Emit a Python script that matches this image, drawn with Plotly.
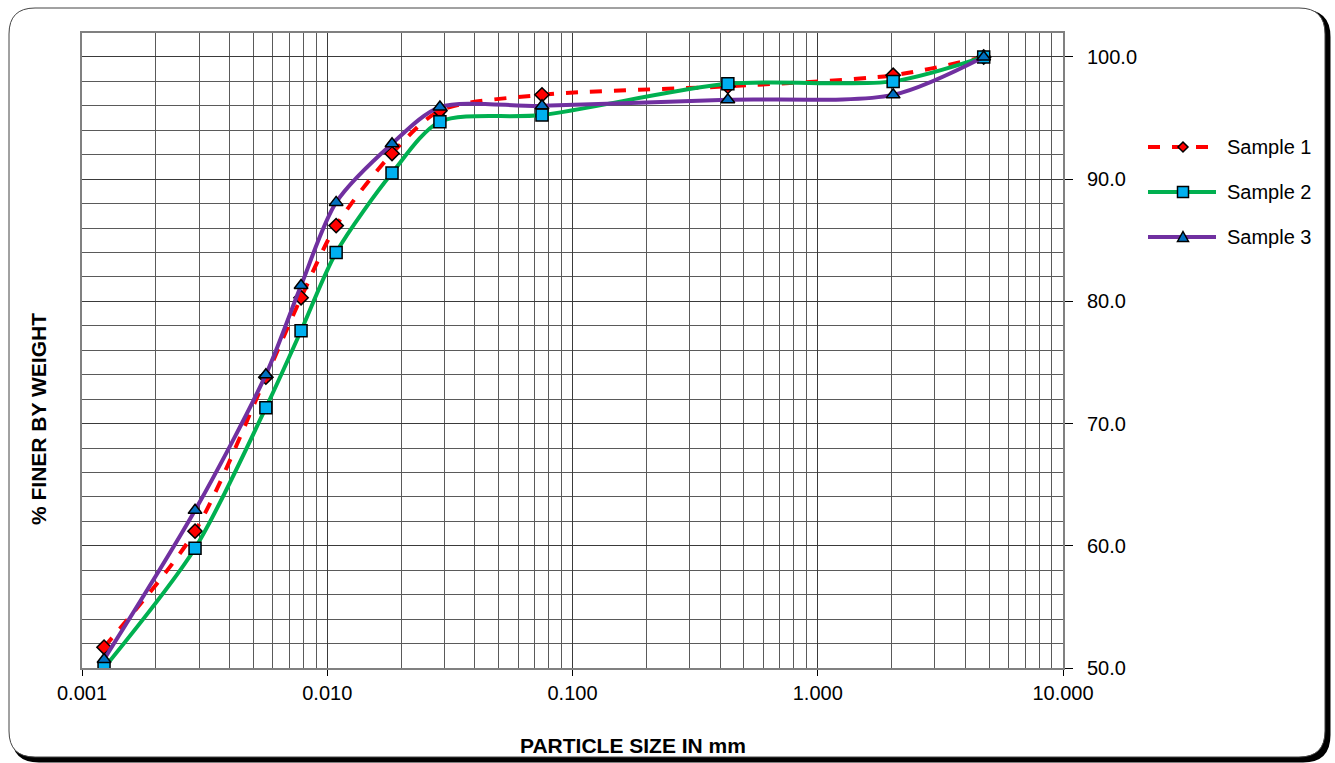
import plotly.graph_objects as go

# Particle size (mm) at each hydrometer / sieve reading
size_mm = [0.00123, 0.00289, 0.00562, 0.00782, 0.01087, 0.01837, 0.0288, 0.0751, 0.430, 2.03, 4.75]

# Percent finer by weight for each sample
sample1 = [51.7, 61.2, 73.8, 80.3, 86.2, 92.1, 95.6, 96.9, 97.6, 98.5, 100.0]
sample2 = [50.0, 59.8, 71.3, 77.6, 84.0, 90.5, 94.7, 95.25, 97.8, 98.0, 100.0]
sample3 = [50.7, 62.9, 74.0, 81.3, 88.1, 92.9, 95.9, 96.0, 96.5, 96.9, 100.0]

sample_names = ["Sample 1", "Sample 2", "Sample 3"]

x_tick_vals = [0.001, 0.01, 0.1, 1, 10]
x_tick_text = ["0.001", "0.010", "0.100", "1.000", "10.000"]
y_tick_vals = [50, 60, 70, 80, 90, 100]
y_tick_text = ["50.0", "60.0", "70.0", "80.0", "90.0", "100.0"]

W, H = 1335, 763
ML, MR, MT, MB = 82, 272, 33, 95
PW, PH = W - ML - MR, H - MT - MB

FONT = "Liberation Sans, Arial, sans-serif"

styles = [
    dict(lc="#ff0000", dash="dash", sym="diamond", mc="#ff0000", ms=11),
    dict(lc="#00b050", dash="solid", sym="square", mc="#00b0f0", ms=12),
    dict(lc="#7030a0", dash="solid", sym="triangle-up", mc="#0070c0", ms=12),
]

fig = go.Figure()
for name, vals, st in zip(sample_names, [sample1, sample2, sample3], styles):
    fig.add_trace(go.Scatter(
        x=size_mm, y=vals, name=name, mode="lines+markers", showlegend=False,
        line=dict(color=st["lc"], width=4, dash=st["dash"], shape="spline", smoothing=0.8),
        marker=dict(symbol=st["sym"], color=st["mc"], size=st["ms"],
                    line=dict(color="#000000", width=1.5)),
    ))


def px_x(p):
    return (p - ML) / PW


def px_y(p):
    return (H - MB - p) / PH


def to_path(segments):
    out = []
    for seg in segments:
        cmd, coords = seg[0], seg[1:]
        parts = [f"{px_x(coords[i]):.5f},{px_y(coords[i + 1]):.5f}"
                 for i in range(0, len(coords), 2)]
        out.append(cmd + " " + " ".join(parts))
    return " ".join(out) + " Z"


def rounded_path(x0, y0, x1, y1, r):
    return to_path([
        ("M", x0 + r, y0), ("L", x1 - r, y0), ("Q", x1, y0, x1, y0 + r),
        ("L", x1, y1 - r), ("Q", x1, y1, x1 - r, y1), ("L", x0 + r, y1),
        ("Q", x0, y1, x0, y1 - r), ("L", x0, y0 + r), ("Q", x0, y0, x0 + r, y0),
    ])


def key_symbol(sym, cx, cy, s):
    h = s / 2
    if sym == "diamond":
        return to_path([("M", cx, cy - h), ("L", cx + h, cy), ("L", cx, cy + h), ("L", cx - h, cy)])
    if sym == "square":
        return to_path([("M", cx - h, cy - h), ("L", cx + h, cy - h), ("L", cx + h, cy + h), ("L", cx - h, cy + h)])
    return to_path([("M", cx, cy - h), ("L", cx + h, cy + h * 0.8), ("L", cx - h, cy + h * 0.8)])


shapes = [
    # drop shadow of the frame
    dict(type="path", xref="paper", yref="paper", layer="below",
         path=rounded_path(13, 11, 1329, 761, 26),
         line=dict(color="#000000", width=3), fillcolor="#000000"),
    # frame
    dict(type="path", xref="paper", yref="paper", layer="below",
         path=rounded_path(9, 8, 1325, 757, 26),
         line=dict(color="#444444", width=1), fillcolor="#ffffff"),
]

annotations = [
    dict(text="<b>PARTICLE SIZE IN mm</b>", xref="paper", yref="paper",
         x=px_x(633), y=px_y(745), xanchor="center", yanchor="middle",
         showarrow=False, font=dict(size=21, family=FONT)),
    dict(text="<b>% FINER BY WEIGHT</b>", xref="paper", yref="paper",
         x=px_x(38), y=px_y(419), xanchor="center", yanchor="middle",
         textangle=-90, showarrow=False, font=dict(size=21, family=FONT)),
]

# legend keys: line sample, marker and label for each series
for i, (name, st) in enumerate(zip(sample_names, styles)):
    ky = 147 + 45 * i
    shapes.append(dict(type="line", xref="paper", yref="paper",
                       x0=px_x(1148), x1=px_x(1216), y0=px_y(ky), y1=px_y(ky),
                       line=dict(color=st["lc"], width=4, dash=st["dash"])))
    shapes.append(dict(type="path", xref="paper", yref="paper",
                       path=key_symbol(st["sym"], 1183, ky, st["ms"] - 1),
                       fillcolor=st["mc"], line=dict(color="#000000", width=1.5)))
    annotations.append(dict(text=name, xref="paper", yref="paper",
                            x=px_x(1225), y=px_y(ky), xanchor="left", yanchor="middle",
                            showarrow=False, font=dict(size=20, family=FONT)))

fig.update_layout(
    width=W, height=H,
    margin=dict(l=ML, r=MR, t=MT, b=MB, autoexpand=False),
    paper_bgcolor="#ffffff", plot_bgcolor="rgba(0,0,0,0)",
    font=dict(family=FONT, size=20, color="#000000"),
    showlegend=False,
    shapes=shapes,
    annotations=annotations,
)

fig.update_xaxes(
    type="log", range=[-3, 1],
    tickvals=x_tick_vals, ticktext=x_tick_text,
    ticks="outside", ticklen=6, tickcolor="#000000",
    tickfont=dict(size=20, family=FONT),
    showgrid=True, gridcolor="#3a3a3a", gridwidth=1,
    minor=dict(showgrid=True, gridcolor="#5a5a5a", gridwidth=1,
               tickvals=[m * 10 ** e for e in range(-3, 1) for m in range(2, 10)]),
    showline=True, linecolor="#808080", linewidth=2, mirror=True,
    zeroline=False,
)
fig.update_yaxes(
    range=[50, 101.96], side="right",
    tickvals=y_tick_vals, ticktext=y_tick_text,
    ticks="outside", ticklen=8, tickcolor="#000000",
    ticklabelstandoff=10,
    tickfont=dict(size=20, family=FONT),
    showgrid=True, gridcolor="#3a3a3a", gridwidth=1,
    minor=dict(showgrid=True, gridcolor="#5a5a5a", gridwidth=1, dtick=2),
    showline=True, linecolor="#808080", linewidth=2, mirror=True,
    zeroline=False,
)

fig.write_html("out.html")
